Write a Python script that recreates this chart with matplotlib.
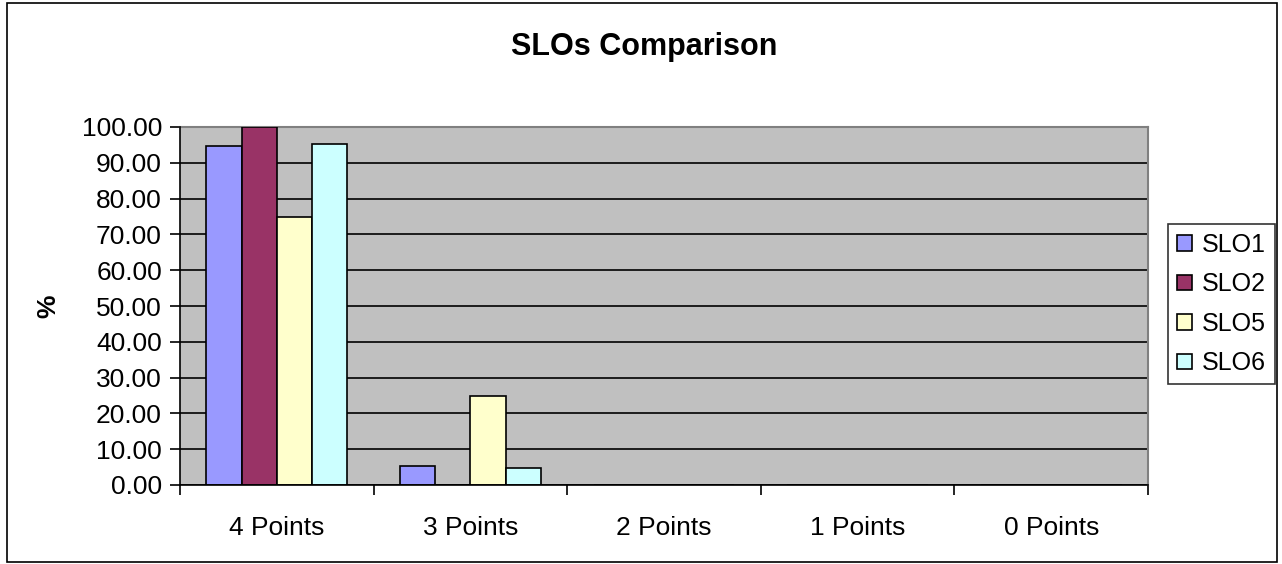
import matplotlib
matplotlib.use("Agg")
import matplotlib.pyplot as plt
import numpy as np
from matplotlib.patches import Rectangle

categories = ["4 Points", "3 Points", "2 Points", "1 Points", "0 Points"]
series_names = ["SLO1", "SLO2", "SLO5", "SLO6"]
slo1 = [94.74, 5.26, 0, 0, 0]
slo2 = [100.0, 0, 0, 0, 0]
slo5 = [75.0, 25.0, 0, 0, 0]
slo6 = [95.24, 4.76, 0, 0, 0]
yticks = [0, 10, 20, 30, 40, 50, 60, 70, 80, 90, 100]

colors = ["#9999FF", "#993366", "#FFFFCC", "#CCFFFF"]

plt.rcParams['font.family'] = ['Liberation Sans', 'DejaVu Sans']

W, H = 1282, 564
fig = plt.figure(figsize=(W / 100, H / 100), dpi=100)
fig.patch.set_facecolor("white")
fig.add_artist(Rectangle((7 / W, 2 / H), (1277 - 7) / W, (561 - 2) / H,
                         transform=fig.transFigure, fill=False,
                         edgecolor="black", linewidth=1.2))

left, right, top, bottom = 180, 1148, 127, 485
ax = fig.add_axes([left / W, (H - bottom) / H, (right - left) / W, (bottom - top) / H])
ax.set_facecolor("#C0C0C0")

x = np.arange(len(categories))
bw = 1 / 5.5
data = [slo1, slo2, slo5, slo6]
for i, (vals, c, name) in enumerate(zip(data, colors, series_names)):
    ax.bar(x - 2 * bw + (i + 0.5) * bw, vals, width=bw, color=c,
           edgecolor="black", linewidth=1.2, label=name, zorder=3)

ax.set_xlim(-0.5, len(categories) - 0.5)
ax.set_ylim(0, 100)
ax.set_yticks(yticks)
ax.set_yticklabels([f"{v:.2f}" for v in yticks], fontsize=19)
ax.yaxis.grid(True, color="black", linewidth=1.2, zorder=1)
ax.set_axisbelow(True)

ax.set_xticks(np.arange(len(categories) + 1) - 0.5)
ax.set_xticklabels([])
ax.set_xticks(x, minor=True)
ax.set_xticklabels(categories, minor=True, fontsize=19)
ax.tick_params(axis="x", which="minor", length=0, pad=22)
ax.tick_params(axis="x", which="major", length=7, width=1.2, direction="out")
ax.tick_params(axis="y", length=7, width=1.2, direction="out", pad=6)

for s in ["top", "right"]:
    ax.spines[s].set_color("#808080")
    ax.spines[s].set_linewidth(1.5)
    ax.spines[s].set_zorder(2.5)
for s in ["left", "bottom"]:
    ax.spines[s].set_linewidth(1.2)
    ax.spines[s].set_zorder(4)

ax.set_ylabel("%", fontsize=19, fontweight="bold", labelpad=15)
fig.text(644 / W, 1 - 47 / H, "SLOs Comparison", fontsize=22,
         fontweight="bold", ha="center", va="center")

leg = ax.legend(loc="upper left", bbox_to_anchor=(1168 / W, 1 - 224 / H),
                bbox_transform=fig.transFigure, fontsize=18, frameon=True,
                fancybox=False, edgecolor="black", handlelength=0.6,
                handleheight=0.6, handletextpad=0.4, borderpad=0.35,
                labelspacing=0.62, borderaxespad=0)
leg.get_frame().set_linewidth(1.2)

fig.savefig("out.png", dpi=100)
